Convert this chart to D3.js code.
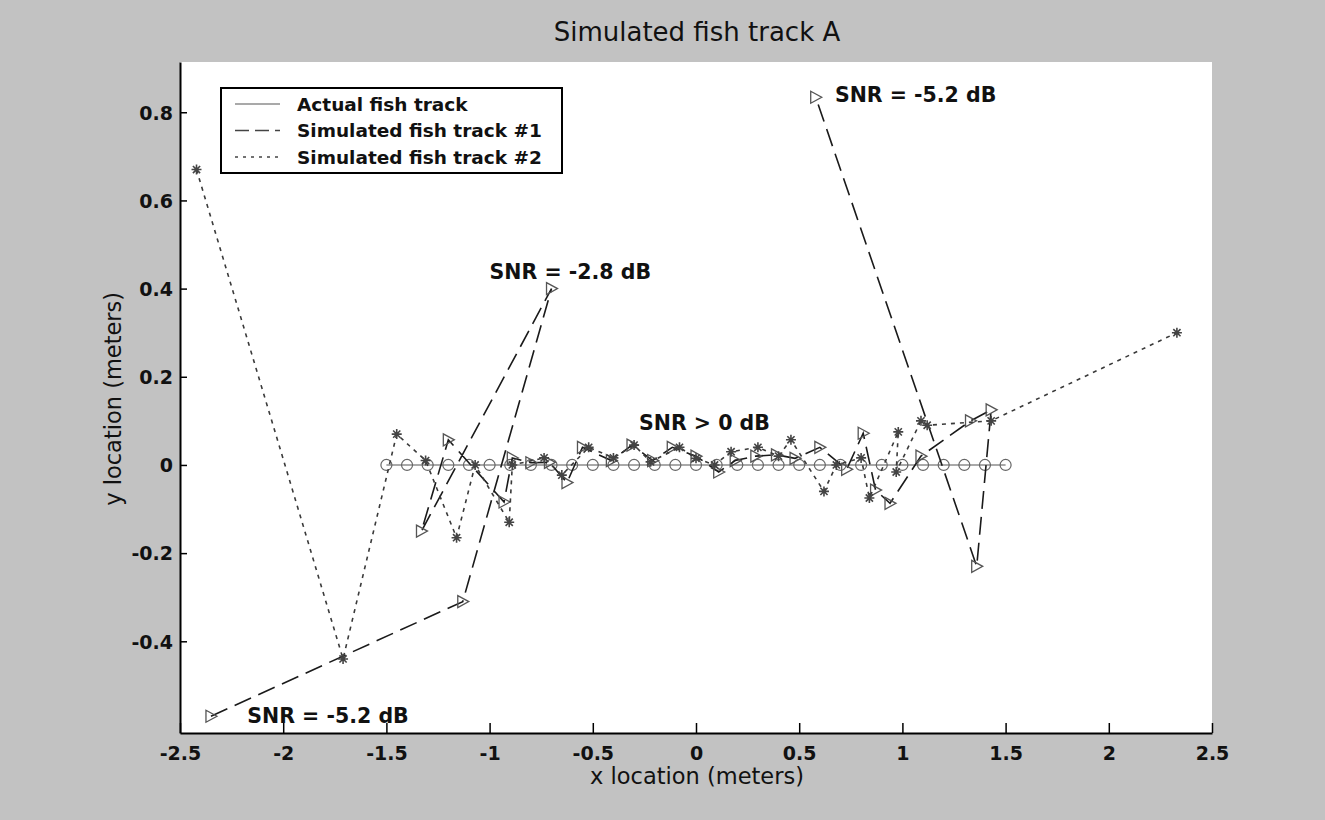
<!DOCTYPE html>
<html>
<head>
<meta charset="utf-8">
<script src="https://cdn.jsdelivr.net/npm/d3@7"></script>
<style>
  body { margin: 0; background: #c2c2c2; }
  text { font-family: "DejaVu Sans", "Liberation Sans", Arial, sans-serif; }
</style>
</head>
<body>
<svg id="chart"></svg>
<script>
// actual track: x from -1.5 to 1.5, y = 0
var actualX = [-1.5, -1.4, -1.3, -1.2, -1.1, -1.0, -0.9, -0.8, -0.7, -0.6, -0.5, -0.4, -0.3, -0.2, -0.1, 0,
               0.1, 0.2, 0.3, 0.4, 0.5, 0.6, 0.7, 0.8, 0.9, 1.0, 1.1, 1.2, 1.3, 1.4, 1.5];
var actualY = actualX.map(function () { return 0; });

// simulated fish track #1 (dashed, triangles)
var sim1X = [-2.35, -1.13, -0.70, -1.33, -1.20, -0.93, -0.89, -0.80, -0.71, -0.625, -0.55, -0.41, -0.31, -0.21,
             -0.115, 0.0, 0.11, 0.19, 0.29, 0.39, 0.48, 0.60, 0.73, 0.81, 0.87, 0.94, 1.09, 1.33, 1.43, 1.36, 0.58];
var sim1Y = [-0.57, -0.31, 0.40, -0.15, 0.057, -0.084, 0.016, 0.005, 0.006, -0.04, 0.04, 0.01, 0.045, 0.01,
             0.04, 0.02, -0.016, 0.01, 0.02, 0.023, 0.015, 0.04, -0.01, 0.072, -0.057, -0.087, 0.02, 0.10, 0.125, -0.23, 0.834];

// simulated fish track #2 (dotted, asterisks)
var sim2X = [-2.42, -1.71, -1.45, -1.31, -1.16, -1.07, -0.905, -0.89, -0.736, -0.65, -0.52, -0.40, -0.30, -0.22,
             -0.08, 0.0, 0.09, 0.17, 0.30, 0.40, 0.46, 0.62, 0.68, 0.80, 0.84, 0.98, 0.97, 1.09, 1.12, 1.43, 2.33];
var sim2Y = [0.67, -0.44, 0.07, 0.01, -0.165, 0.0, -0.13, 0.0, 0.016, -0.023, 0.04, 0.016, 0.045, 0.007,
             0.04, 0.015, 0.0, 0.03, 0.04, 0.02, 0.057, -0.06, 0.0, 0.016, -0.075, 0.075, -0.016, 0.10, 0.09, 0.10, 0.30];

var xTicks = [-2.5, -2, -1.5, -1, -0.5, 0, 0.5, 1, 1.5, 2, 2.5];
var yTicks = [-0.4, -0.2, 0, 0.2, 0.4, 0.6, 0.8];

var legendLabels = ["Actual fish track", "Simulated fish track #1", "Simulated fish track #2"];

var snrLabels = ["SNR = -2.8 dB", "SNR > 0 dB", "SNR = -5.2 dB", "SNR = -5.2 dB"];
var snrX = [-1.0, -0.276, 0.673, -2.174];
var snrY = [0.438, 0.095, 0.84, -0.569];

var width = 1325, height = 820;
var svg = d3.select("#chart").attr("width", width).attr("height", height);

svg.append("rect").attr("width", width).attr("height", height).attr("fill", "#c2c2c2");

var x = d3.scaleLinear().domain([-2.5, 2.5]).range([180, 1212]);
var y = d3.scaleLinear().domain([-0.608, 0.914]).range([733, 62]);

// white plot area
svg.append("rect")
    .attr("x", x(-2.5)).attr("y", y(0.914))
    .attr("width", x(2.5) - x(-2.5)).attr("height", y(-0.608) - y(0.914))
    .attr("fill", "#ffffff");

// axes, ticks pointing inward
var xAxis = svg.append("g")
    .attr("transform", "translate(0," + y(-0.608) + ")")
    .call(d3.axisBottom(x).tickValues(xTicks).tickSizeInner(-10).tickSizeOuter(0).tickPadding(14)
        .tickFormat(function (d) { return String(d); }));
var yAxis = svg.append("g")
    .attr("transform", "translate(" + x(-2.5) + ",0)")
    .call(d3.axisLeft(y).tickValues(yTicks).tickSizeInner(-7).tickSizeOuter(0).tickPadding(7)
        .tickFormat(function (d) { return d === 0 ? "0" : d3.format(".1f")(d).replace("−", "-"); }));

[xAxis, yAxis].forEach(function (g) {
    g.select(".domain").attr("stroke", "#000").attr("stroke-width", 2);
    g.selectAll(".tick line").attr("stroke", "#000").attr("stroke-width", 1.5);
    g.selectAll(".tick text")
        .attr("fill", "#111")
        .style("font-size", "19px")
        .style("font-weight", "bold");
});
yAxis.selectAll(".tick text").attr("dy", "0.36em");

// line generators
function lineOf(xs, ys) {
    return d3.line().x(function (d, i) { return x(xs[i]); }).y(function (d, i) { return y(ys[i]); })(xs);
}

var plot = svg.append("g");

// actual track
plot.append("path")
    .attr("d", lineOf(actualX, actualY))
    .attr("fill", "none").attr("stroke", "#8c8c8c").attr("stroke-width", 1.4);
plot.selectAll(".act").data(actualX).enter().append("circle")
    .attr("cx", function (d) { return x(d); })
    .attr("cy", function (d, i) { return y(actualY[i]); })
    .attr("r", 5.5)
    .attr("fill", "none").attr("stroke", "#666").attr("stroke-width", 1.2);

// track #1
plot.append("path")
    .attr("d", lineOf(sim1X, sim1Y))
    .attr("fill", "none").attr("stroke", "#1a1a1a").attr("stroke-width", 1.6)
    .attr("stroke-dasharray", "18,8");
plot.selectAll(".tri").data(sim1X).enter().append("path")
    .attr("transform", function (d, i) { return "translate(" + x(d) + "," + y(sim1Y[i]) + ")"; })
    .attr("d", "M-5,-6L6,0L-5,6Z")
    .attr("fill", "none").attr("stroke", "#555").attr("stroke-width", 1.3);

// track #2
plot.append("path")
    .attr("d", lineOf(sim2X, sim2Y))
    .attr("fill", "none").attr("stroke", "#3a3a3a").attr("stroke-width", 1.6)
    .attr("stroke-dasharray", "4,5");
plot.selectAll(".star").data(sim2X).enter().append("path")
    .attr("transform", function (d, i) { return "translate(" + x(d) + "," + y(sim2Y[i]) + ")"; })
    .attr("d", "M-5,0L5,0M0,-5L0,5M-3.6,-3.6L3.6,3.6M-3.6,3.6L3.6,-3.6")
    .attr("fill", "none").attr("stroke", "#444").attr("stroke-width", 1.6);

// SNR annotations
svg.selectAll(".snr").data(snrLabels).enter().append("text")
    .attr("x", function (d, i) { return x(snrX[i]); })
    .attr("y", function (d, i) { return y(snrY[i]); })
    .attr("dy", "0.36em")
    .style("font-size", "20.5px").style("font-weight", "bold").attr("fill", "#111")
    .text(function (d) { return d; });

// legend
var legend = svg.append("g");
legend.append("rect")
    .attr("x", 221).attr("y", 88).attr("width", 341).attr("height", 85)
    .attr("fill", "#fff").attr("stroke", "#000").attr("stroke-width", 2);
var legendDash = [null, "14,6", "3,5"];
var legendColor = ["#8c8c8c", "#444", "#444"];
legendLabels.forEach(function (label, i) {
    var ly = 104 + i * 26.5;
    legend.append("line")
        .attr("x1", 235).attr("x2", 280).attr("y1", ly).attr("y2", ly)
        .attr("stroke", legendColor[i]).attr("stroke-width", 1.4)
        .attr("stroke-dasharray", legendDash[i]);
    legend.append("text")
        .attr("x", 297).attr("y", ly).attr("dy", "0.36em")
        .style("font-size", "18.5px").style("font-weight", "bold").attr("fill", "#111")
        .text(label);
});

// titles
svg.append("text")
    .attr("x", 697).attr("y", 41).attr("text-anchor", "middle")
    .style("font-size", "26px").attr("fill", "#111")
    .text("Simulated fish track A");
svg.append("text")
    .attr("x", 697).attr("y", 784).attr("text-anchor", "middle")
    .style("font-size", "22.5px").attr("fill", "#111")
    .text("x location (meters)");
svg.append("text")
    .attr("transform", "translate(121," + y(0.15) + ") rotate(-90)")
    .attr("text-anchor", "middle")
    .style("font-size", "22.5px").attr("fill", "#111")
    .text("y location (meters)");
</script>
</body>
</html>
